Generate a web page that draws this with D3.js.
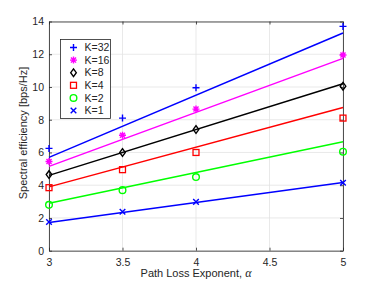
<!DOCTYPE html>
<html lang="en">
<head>
<meta charset="UTF-8">
<title>Spectral efficiency</title>
<script src="https://d3js.org/d3.v7.min.js"></script>
<style>
  body { margin: 0; background: #fff; }
  text { font-family: "Liberation Sans", Arial, sans-serif; fill: #262626; }
</style>
</head>
<body>
<svg class="chart" width="379" height="285"></svg>
<script>
  // path loss exponent values where simulation markers are drawn
  const alpha = [3, 3.5, 4, 5]
  // simulated spectral efficiency (markers)
  const simK32 = [6.25, 8.1, 9.95, 13.7]
  const simK16 = [5.45, 7.05, 8.65, 11.95]
  const simK8 = [4.65, 6.0, 7.4, 10.05]
  const simK4 = [3.85, 4.95, 6.0, 8.1]
  const simK2 = [2.8, 3.7, 4.5, 6.05]
  const simK1 = [1.75, 2.38, 2.98, 4.15]
  // analytical lines, values at alpha = 3 and alpha = 5
  const lineAlpha = [3, 5]
  const lineK32 = [5.7, 13.3]
  const lineK16 = [5.15, 11.75]
  const lineK8 = [4.6, 10.2]
  const lineK4 = [3.9, 8.75]
  const lineK2 = [2.9, 6.65]
  const lineK1 = [1.72, 4.17]

  const xTicks = [3, 3.5, 4, 4.5, 5]
  const yTicks = [0, 2, 4, 6, 8, 10, 12, 14]

  const series = [
    { name: 'K=32', sim: simK32, fit: lineK32, color: '#0000ff', marker: 'plus' },
    { name: 'K=16', sim: simK16, fit: lineK16, color: '#ff00ff', marker: 'star' },
    { name: 'K=8', sim: simK8, fit: lineK8, color: '#000000', marker: 'diamond' },
    { name: 'K=4', sim: simK4, fit: lineK4, color: '#ff0000', marker: 'square' },
    { name: 'K=2', sim: simK2, fit: lineK2, color: '#00ff00', marker: 'circle' },
    { name: 'K=1', sim: simK1, fit: lineK1, color: '#0000ff', marker: 'cross' }
  ]

  const svg = d3.select('.chart')
  const margin = { top: 21.5, right: 36, bottom: 34.3, left: 49 }
  const width = +svg.attr('width')
  const height = +svg.attr('height')
  const innerWidth = width - margin.left - margin.right
  const innerHeight = height - margin.top - margin.bottom

  const xScale = d3.scaleLinear().domain([3, 5]).range([0, innerWidth])
  const yScale = d3.scaleLinear().domain([0, 14]).range([innerHeight, 0])

  const g = svg.append('g').attr('transform', `translate(${margin.left},${margin.top})`)

  // grid
  g.append('g').selectAll('line').data(xTicks).join('line')
    .attr('x1', d => xScale(d)).attr('x2', d => xScale(d))
    .attr('y1', 0).attr('y2', innerHeight)
    .attr('stroke', '#e3e3e3').attr('stroke-width', 0.8)
  g.append('g').selectAll('line').data(yTicks).join('line')
    .attr('y1', d => yScale(d)).attr('y2', d => yScale(d))
    .attr('x1', 0).attr('x2', innerWidth)
    .attr('stroke', '#e3e3e3').attr('stroke-width', 0.8)

  // axes, ticks inward on all four sides
  const tickLen = 3
  const styleAxis = (sel) => {
    sel.select('.domain').attr('stroke', '#262626').attr('stroke-width', 0.8)
    sel.selectAll('.tick line').attr('stroke', '#262626').attr('stroke-width', 0.8)
    sel.selectAll('.tick text').attr('font-size', '10.5px').attr('fill', '#262626')
      .style('font-family', '"Liberation Sans", Arial, sans-serif')
  }
  g.append('g').attr('transform', `translate(0,${innerHeight})`)
    .call(d3.axisBottom(xScale).tickValues(xTicks).tickSizeInner(-tickLen).tickSizeOuter(0)
      .tickPadding(8).tickFormat(d3.format('')))
    .call(styleAxis)
  g.append('g')
    .call(d3.axisTop(xScale).tickValues(xTicks).tickSizeInner(-tickLen).tickSizeOuter(0))
    .call(styleAxis)
    .call(a => a.selectAll('.tick text').remove())
  g.append('g')
    .call(d3.axisLeft(yScale).tickValues(yTicks).tickSizeInner(-tickLen).tickSizeOuter(0)
      .tickPadding(5).tickFormat(d3.format('')))
    .call(styleAxis)
  g.append('g').attr('transform', `translate(${innerWidth},0)`)
    .call(d3.axisRight(yScale).tickValues(yTicks).tickSizeInner(-tickLen).tickSizeOuter(0))
    .call(styleAxis)
    .call(a => a.selectAll('.tick text').remove())

  // marker drawing
  const drawMarker = (sel, type, color, size) => {
    const h = size / 2
    if (type === 'plus') {
      sel.append('path').attr('d', `M${-h},0H${h}M0,${-h}V${h}`)
        .attr('stroke', color).attr('stroke-width', 1.4).attr('fill', 'none')
    } else if (type === 'star') {
      const d = h * 0.72
      sel.append('path').attr('d', `M${-h},0H${h}M0,${-h}V${h}M${-d},${-d}L${d},${d}M${-d},${d}L${d},${-d}`)
        .attr('stroke', color).attr('stroke-width', 1.4).attr('fill', 'none')
    } else if (type === 'diamond') {
      sel.append('path').attr('d', `M0,${-h * 1.1}L${h * 0.8},0L0,${h * 1.1}L${-h * 0.8},0Z`)
        .attr('stroke', color).attr('stroke-width', 1.4).attr('fill', 'none')
    } else if (type === 'square') {
      const s = h * 0.85
      sel.append('rect').attr('x', -s).attr('y', -s).attr('width', 2 * s).attr('height', 2 * s)
        .attr('stroke', color).attr('stroke-width', 1.3).attr('fill', 'none')
    } else if (type === 'circle') {
      sel.append('circle').attr('r', h * 0.95)
        .attr('stroke', color).attr('stroke-width', 1.4).attr('fill', 'none')
    } else if (type === 'cross') {
      const d = h * 0.8
      sel.append('path').attr('d', `M${-d},${-d}L${d},${d}M${-d},${d}L${d},${-d}`)
        .attr('stroke', color).attr('stroke-width', 1.4).attr('fill', 'none')
    }
  }

  const line = d3.line().x(d => xScale(d[0])).y(d => yScale(d[1]))

  series.forEach(s => {
    g.append('path')
      .datum(lineAlpha.map((a, i) => [a, s.fit[i]]))
      .attr('d', line)
      .attr('fill', 'none')
      .attr('stroke', s.color)
      .attr('stroke-width', 1.5)
  })
  series.forEach(s => {
    alpha.forEach((a, i) => {
      const m = g.append('g').attr('transform', `translate(${xScale(a)},${yScale(s.sim[i])})`)
      drawMarker(m, s.marker, s.color, 7)
    })
  })

  // legend
  const legend = svg.append('g').attr('transform', 'translate(60.5,39.5)')
  legend.append('rect').attr('width', 50).attr('height', 79)
    .attr('fill', '#fff').attr('stroke', '#262626').attr('stroke-width', 0.8)
  series.forEach((s, i) => {
    const y = 8 + i * 12.6
    const m = legend.append('g').attr('transform', `translate(13,${y})`)
    drawMarker(m, s.marker, s.color, 7)
    legend.append('text').attr('x', 24).attr('y', y).attr('dy', '0.35em')
      .attr('font-size', '10.5px').text(s.name)
  })

  // axis labels
  const xl = svg.append('text')
    .attr('x', margin.left + innerWidth / 2).attr('y', 277)
    .attr('text-anchor', 'middle').attr('font-size', '11px')
  xl.append('tspan').text('Path Loss Exponent,  ')
  xl.append('tspan').text('α').attr('font-style', 'italic')
    .style('font-family', '"Liberation Serif", "DejaVu Serif", serif').attr('font-size', '12px')

  svg.append('text')
    .attr('transform', `translate(27,133) rotate(-90)`)
    .attr('text-anchor', 'middle').attr('font-size', '11px')
    .text('Spectral efficiency [bps/Hz]')
</script>
</body>
</html>
